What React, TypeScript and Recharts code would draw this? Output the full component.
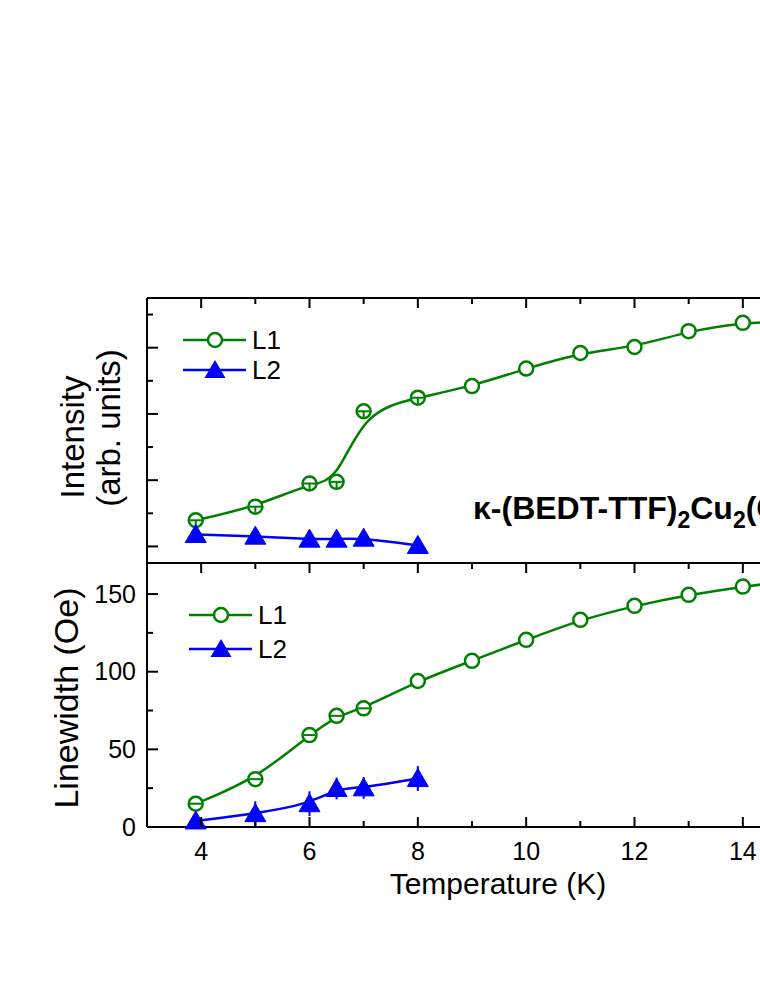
import React from 'react';
import { LineChart, Line, XAxis, YAxis, ErrorBar, Legend } from 'recharts';

// ---- data ----
const temperatures = [3.9, 5, 6, 6.5, 7, 8, 9, 10, 11, 12, 13, 14, 15];
const intensityL1 = [0.79, 1.2, 1.9, 1.95, 4.08, 4.49, 4.84, 5.37, 5.84, 6.02, 6.5, 6.75, 6.82];
const intensityL1Err = [1, 1, 1, 1, 1, 1, 0, 0, 0, 0, 0, 0, 0];
const intensityL2 = [0.36, 0.31, 0.22, 0.22, 0.25, 0.03];
const linewidthL1 = [15, 30.8, 59.2, 71.6, 76.4, 94, 107, 120.5, 133.4, 142.4, 149.5, 154.8, 159];
const linewidthL1Err = [1, 1, 1, 1, 1, 0, 0, 0, 0, 0, 0, 0, 0];
const linewidthL2 = [3.9, 8.6, 15, 24.8, 25.2, 31.2];
const linewidthL2Err = [3, 8, 8, 7, 7, 8];

const seriesNames = ['L1', 'L2'];
const xMajorTicks = [4, 6, 8, 10, 12, 14];
const xMinorTicks = [5, 7, 9, 11, 13, 15];
const linewidthMajorTicks = [0, 50, 100, 150];
const linewidthMinorTicks = [25, 75, 125];
const intensityMajorTicks = [0, 2, 4, 6];
const intensityMinorTicks = [1, 3, 5, 7];

const xTitle = 'Temperature (K)';
const topYTitle = ['Intensity', '(arb. units)'];
const bottomYTitle = 'Linewidth (Oe)';

const topData = temperatures.map((t, i) => ({
  T: t,
  l1: intensityL1[i],
  l1e: intensityL1Err[i],
  l2: i < intensityL2.length ? intensityL2[i] : null,
}));
const bottomData = temperatures.map((t, i) => ({
  T: t,
  l1: linewidthL1[i],
  l1e: linewidthL1Err[i],
  l2: i < linewidthL2.length ? linewidthL2[i] : null,
  l2e: i < linewidthL2Err.length ? linewidthL2Err[i] : null,
}));

// ---- styling ----
const FONT = '"Liberation Sans", Arial, Helvetica, sans-serif';
const GREEN = '#008000';
const BLUE = '#0000ff';
const W = 900;
const H = 983;
const PLOT_LEFT = 147;
const PLOT_RIGHT = 797;
const TOP_Y0 = 298;
const MID_Y = 563;
const BOT_Y1 = 827;

const xTick = (dir: number, showLabel: boolean) => (props: any) => {
  const { x, y, payload } = props;
  const v = payload.value;
  const major = xMajorTicks.includes(v);
  const len = major ? 10 : 6;
  return (
    <g>
      <line x1={x} x2={x} y1={y} y2={y + dir * len} stroke="#000" strokeWidth={2} />
      {showLabel && major ? (
        <text x={x} y={y + 33} textAnchor="middle" fontSize={25} fontFamily={FONT} fill="#000">
          {v}
        </text>
      ) : null}
    </g>
  );
};

const yTick = (majors: number[], dir: number, showLabel: boolean) => (props: any) => {
  const { x, y, payload } = props;
  const v = payload.value;
  const major = majors.includes(v);
  const len = major ? 11 : 6;
  return (
    <g>
      <line x1={x} x2={x + dir * len} y1={y} y2={y} stroke="#000" strokeWidth={2} />
      {showLabel && major ? (
        <text x={x - 11} y={y} dy="0.35em" textAnchor="end" fontSize={25} fontFamily={FONT} fill="#000">
          {v}
        </text>
      ) : null}
    </g>
  );
};

const circleDot = (variant: 'top' | 'bottom') => (props: any) => {
  const { cx, cy, payload, index } = props;
  if (cx == null || cy == null) return <g key={index} />;
  const mark = payload && payload.l1e > 0;
  return (
    <g key={index}>
      <circle cx={cx} cy={cy} r={7} fill="#fff" stroke={GREEN} strokeWidth={2.5} />
      {mark ? <line x1={cx - 6} x2={cx + 6} y1={cy} y2={cy} stroke={GREEN} strokeWidth={2} /> : null}
      {mark && variant === 'top' ? (
        <line x1={cx} x2={cx} y1={cy} y2={cy + 6} stroke={GREEN} strokeWidth={2} />
      ) : null}
    </g>
  );
};

const triangleDot = (props: any) => {
  const { cx, cy, index } = props;
  if (cx == null || cy == null) return <g key={index} />;
  return (
    <polygon
      key={index}
      points={`${cx},${cy - 10} ${cx + 10.5},${cy + 8} ${cx - 10.5},${cy + 8}`}
      fill={BLUE}
      stroke={BLUE}
      strokeWidth={1}
    />
  );
};

const legendContent = (gap: number) => (props: any) => {
  const payload = (props && props.payload) || [];
  return (
    <svg width={130} height={30 + gap + 10} style={{ overflow: 'visible' }}>
      {payload.map((entry: any, i: number) => {
        const y = 18 + i * gap;
        const color = entry.color || (i === 0 ? GREEN : BLUE);
        return (
          <g key={i}>
            <line x1={3} x2={66} y1={y} y2={y} stroke={color} strokeWidth={2.5} />
            {i === 0 ? (
              <circle cx={35} cy={y} r={7} fill="#fff" stroke={color} strokeWidth={2.5} />
            ) : (
              <polygon points={`35,${y - 10} 45.5,${y + 8} 24.5,${y + 8}`} fill={color} />
            )}
            <text x={72} y={y} dy="0.36em" fontSize={26} fontFamily={FONT} fill="#000">
              {entry.value}
            </text>
          </g>
        );
      })}
    </svg>
  );
};

const axisLine = { stroke: '#000', strokeWidth: 2 };
const noTick = () => <g />;
const allXTicks = [...xMajorTicks, ...xMinorTicks];

export default function App() {
  return (
    <div style={{ position: 'absolute', left: 0, top: 0, width: W, height: H, background: '#fff' }}>
      {/* Top panel: intensity */}
      <div style={{ position: 'absolute', left: 0, top: 0 }}>
        <LineChart
          width={W}
          height={H}
          data={topData}
          margin={{ top: TOP_Y0 - 1, right: W - PLOT_RIGHT - 1, bottom: H - MID_Y - 1, left: PLOT_LEFT - 1 }}
        >
          <XAxis
            dataKey="T"
            type="number"
            domain={[3, 15]}
            ticks={allXTicks}
            interval={0}
            height={1}
            tickSize={0}
            tickMargin={0}
            axisLine={axisLine}
            tickLine={false}
            tick={noTick}
          />
          <XAxis
            xAxisId="top"
            orientation="top"
            dataKey="T"
            type="number"
            domain={[3, 15]}
            ticks={allXTicks}
            interval={0}
            height={1}
            tickSize={0}
            tickMargin={0}
            axisLine={axisLine}
            tickLine={false}
            tick={xTick(1, false)}
          />
          <YAxis
            type="number"
            domain={[-0.5, 7.5]}
            ticks={[...intensityMajorTicks, ...intensityMinorTicks]}
            interval={0}
            width={1}
            tickSize={0}
            tickMargin={0}
            axisLine={axisLine}
            tickLine={false}
            tick={yTick(intensityMajorTicks, 1, false)}
          />
          <YAxis
            yAxisId="right"
            orientation="right"
            type="number"
            domain={[-0.5, 7.5]}
            ticks={[...intensityMajorTicks, ...intensityMinorTicks]}
            interval={0}
            width={1}
            tickSize={0}
            tickMargin={0}
            axisLine={axisLine}
            tickLine={false}
            tick={yTick(intensityMajorTicks, -1, false)}
          />
          <Line
            type="basis"
            dataKey="l1"
            name={seriesNames[0]}
            stroke={GREEN}
            strokeWidth={2.5}
            dot={circleDot('top')}
            isAnimationActive={false}
          />
          <Line
            type="basis"
            dataKey="l2"
            name={seriesNames[1]}
            stroke={BLUE}
            strokeWidth={2.5}
            dot={triangleDot}
            isAnimationActive={false}
          />
          <Legend
            layout="vertical"
            align="center"
            verticalAlign="middle"
            wrapperStyle={{ left: 180, top: 322, width: 130, height: 70, bottom: 'auto', right: 'auto' }}
            content={legendContent(30)}
          />
        </LineChart>
      </div>

      {/* Bottom panel: linewidth */}
      <div style={{ position: 'absolute', left: 0, top: 0 }}>
        <LineChart
          width={W}
          height={H}
          data={bottomData}
          margin={{ top: MID_Y - 1, right: W - PLOT_RIGHT - 1, bottom: H - BOT_Y1 - 1, left: PLOT_LEFT - 1 }}
        >
          <XAxis
            dataKey="T"
            type="number"
            domain={[3, 15]}
            ticks={allXTicks}
            interval={0}
            height={1}
            tickSize={0}
            tickMargin={0}
            axisLine={axisLine}
            tickLine={false}
            tick={xTick(-1, true)}
          />
          <XAxis
            xAxisId="top"
            orientation="top"
            dataKey="T"
            type="number"
            domain={[3, 15]}
            ticks={allXTicks}
            interval={0}
            height={1}
            tickSize={0}
            tickMargin={0}
            axisLine={axisLine}
            tickLine={false}
            tick={xTick(1, false)}
          />
          <YAxis
            type="number"
            domain={[0, 170]}
            ticks={[...linewidthMajorTicks, ...linewidthMinorTicks]}
            interval={0}
            width={1}
            tickSize={0}
            tickMargin={0}
            axisLine={axisLine}
            tickLine={false}
            tick={yTick(linewidthMajorTicks, 1, true)}
          />
          <YAxis
            yAxisId="right"
            orientation="right"
            type="number"
            domain={[0, 170]}
            ticks={[...linewidthMajorTicks, ...linewidthMinorTicks]}
            interval={0}
            width={1}
            tickSize={0}
            tickMargin={0}
            axisLine={axisLine}
            tickLine={false}
            tick={yTick(linewidthMajorTicks, -1, false)}
          />
          <Line
            type="basis"
            dataKey="l1"
            name={seriesNames[0]}
            stroke={GREEN}
            strokeWidth={2.5}
            dot={circleDot('bottom')}
            isAnimationActive={false}
          />
          <Line
            type="basis"
            dataKey="l2"
            name={seriesNames[1]}
            stroke={BLUE}
            strokeWidth={2.5}
            dot={triangleDot}
            isAnimationActive={false}
          >
            <ErrorBar dataKey="l2e" direction="y" width={0} stroke={BLUE} strokeWidth={2} />
          </Line>
          <Legend
            layout="vertical"
            align="center"
            verticalAlign="middle"
            wrapperStyle={{ left: 186, top: 597, width: 130, height: 76, bottom: 'auto', right: 'auto' }}
            content={legendContent(34)}
          />
        </LineChart>
      </div>

      {/* Titles and annotation */}
      <svg
        width={W}
        height={H}
        style={{ position: 'absolute', left: 0, top: 0, pointerEvents: 'none', overflow: 'visible' }}
      >
        <text
          transform="translate(72,437) rotate(-90)"
          textAnchor="middle"
          dominantBaseline="central"
          fontSize={33}
          fontFamily={FONT}
          fill="#000"
        >
          {topYTitle[0]}
        </text>
        <text
          transform="translate(108,428) rotate(-90)"
          textAnchor="middle"
          dominantBaseline="central"
          fontSize={33}
          fontFamily={FONT}
          fill="#000"
        >
          {topYTitle[1]}
        </text>
        <text
          transform="translate(66,698) rotate(-90)"
          textAnchor="middle"
          dominantBaseline="central"
          fontSize={34}
          fontFamily={FONT}
          fill="#000"
        >
          {bottomYTitle}
        </text>
        <text x={498} y={894} textAnchor="middle" fontSize={30} fontFamily={FONT} fill="#000">
          {xTitle}
        </text>
        <text x={473} y={519} fontSize={32} fontWeight="bold" fontFamily={FONT} fill="#000">
          κ-(BEDT-TTF)
          <tspan fontSize={23} dy={9}>2</tspan>
          <tspan dy={-9}>Cu</tspan>
          <tspan fontSize={23} dy={9}>2</tspan>
          <tspan dy={-9}>(CN)</tspan>
          <tspan fontSize={23} dy={9}>3</tspan>
        </text>
      </svg>
    </div>
  );
}
